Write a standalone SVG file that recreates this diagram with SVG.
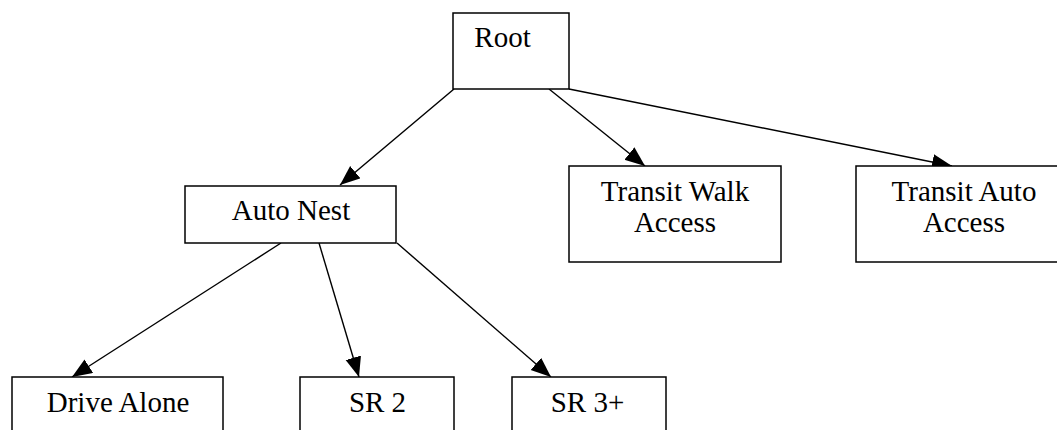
<svg xmlns="http://www.w3.org/2000/svg" width="1057" height="430" viewBox="0 0 1057 430">
<style>
.box{fill:#fff;stroke:#000;stroke-width:1.5}
.lbl{font-family:'Liberation Serif','Times New Roman','Nimbus Roman','DejaVu Serif',serif;font-size:29px;fill:#000;text-anchor:middle}
.edge{fill:none;stroke:#000;stroke-width:1.4;marker-end:url(#ah)}
</style>
<defs>
<marker id="ah" markerUnits="userSpaceOnUse" markerWidth="21" markerHeight="17" refX="20" refY="8" orient="auto" viewBox="0 0 21 17">
<path d="M0,0 L20,8 L0,16 z" fill="#000"/>
</marker>
</defs>
<rect width="1057" height="430" fill="#fff"/>
<g id="connectors">
<line class="edge" x1="454" y1="89" x2="340" y2="185"/>
<line class="edge" x1="549" y1="89" x2="645" y2="166"/>
<line class="edge" x1="569" y1="89" x2="952" y2="166"/>
<line class="edge" x1="281" y1="243" x2="72" y2="377"/>
<line class="edge" x1="319" y1="243" x2="359" y2="377"/>
<line class="edge" x1="397" y1="243" x2="551" y2="377"/>
</g>
<g id="root">
<rect class="box" x="453" y="13" width="116" height="76"/>
<text class="lbl" x="502.5" y="47">Root</text>
</g>
<g id="auto-nest">
<rect class="box" x="185" y="186" width="211" height="57"/>
<text class="lbl" x="291" y="220">Auto Nest</text>
</g>
<g id="transit-walk">
<rect class="box" x="569" y="166" width="212" height="96"/>
<text class="lbl" x="675" y="201">Transit Walk</text>
<text class="lbl" x="675" y="232">Access</text>
</g>
<g id="transit-auto">
<rect class="box" x="856" y="166" width="216" height="96"/>
<text class="lbl" x="964" y="201">Transit Auto</text>
<text class="lbl" x="964" y="232">Access</text>
</g>
<g id="drive-alone">
<rect class="box" x="12" y="377" width="211" height="60"/>
<text class="lbl" x="118" y="412">Drive Alone</text>
</g>
<g id="sr2">
<rect class="box" x="300" y="377" width="154" height="60"/>
<text class="lbl" x="377.5" y="412">SR 2</text>
</g>
<g id="sr3">
<rect class="box" x="512" y="377" width="154" height="60"/>
<text class="lbl" x="587.5" y="412">SR 3+</text>
</g>
</svg>
